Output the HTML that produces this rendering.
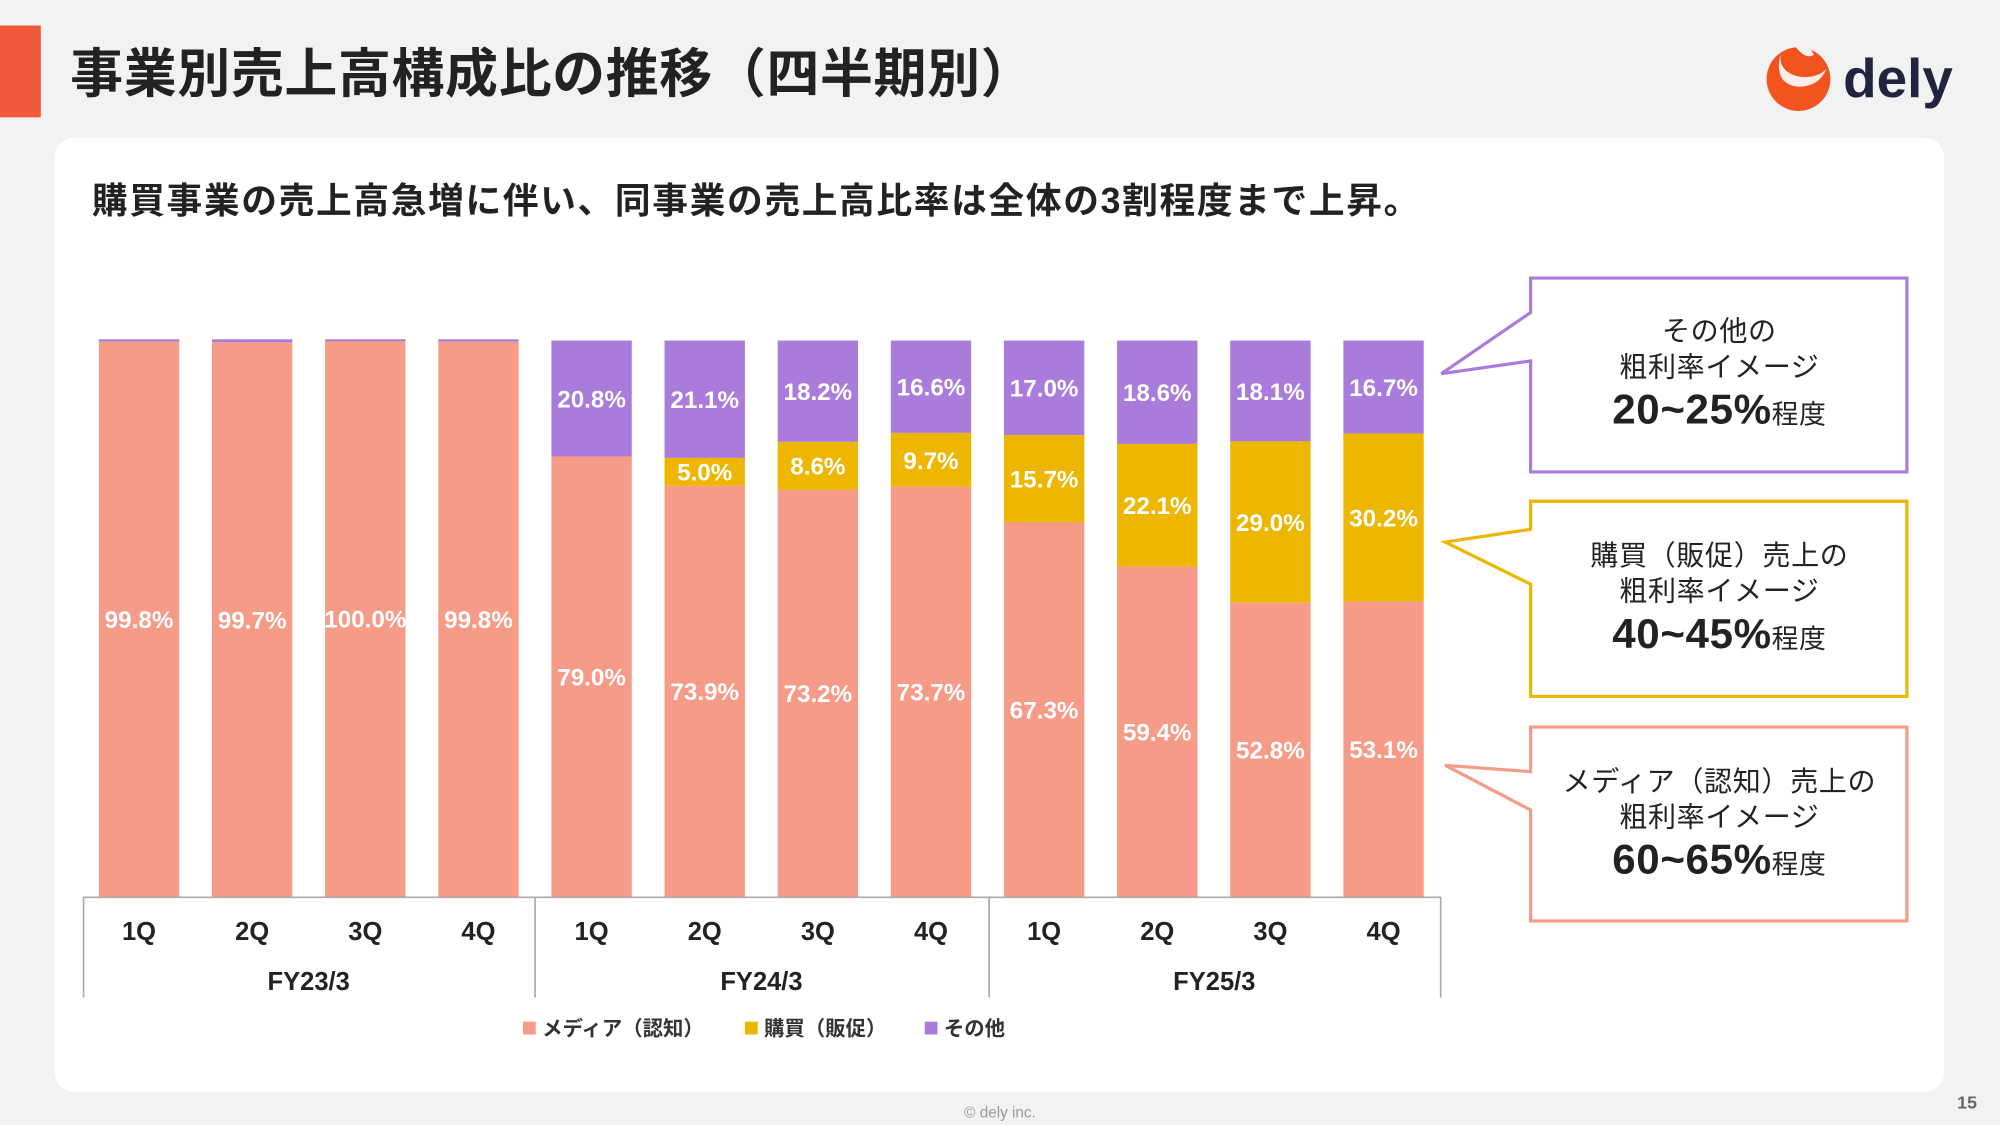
<!DOCTYPE html><html><head><meta charset="utf-8"><style>html,body{margin:0;padding:0;background:#f2f2f2}svg{display:block}text{font-family:"Liberation Sans","Noto Sans CJK JP",sans-serif}</style></head><body>
<svg width="2000" height="1125" viewBox="0 0 1568 882" xmlns="http://www.w3.org/2000/svg">
<rect width="1568" height="882" fill="#f2f2f2"/>
<rect x="0" y="20" width="32" height="72" fill="#F05A3A"/>
<text x="55" y="72" font-size="41.5" font-weight="bold" fill="#222" letter-spacing="0.5">事業別売上高構成比の推移（四半期別）</text>
<circle cx="1410" cy="62" r="25" fill="#F2531F"/>
<path d="M1396 42 q-2 14 14 18 q14 2 22 -6 q-6 14 -22 14 q-20 -2 -14 -26z" fill="#fff" opacity="0.9"/>
<path d="M1408 37 q10 -4 14 6 q-6 4 -14 -6z" fill="#f2f2f2"/>
<text x="1445" y="76" font-size="43" font-weight="bold" fill="#22233f">dely</text>
<rect x="43" y="108" width="1481" height="748" rx="15" fill="#fff"/>
<text x="72" y="167" font-size="28" font-weight="bold" fill="#222" letter-spacing="1.3">購買事業の売上高急増に伴い、同事業の売上高比率は全体の3割程度まで上昇。</text>
<g id="bars" font-size="19" font-weight="bold" fill="#fff" text-anchor="middle"></g>
<g stroke="#aaa" stroke-width="1.3"><line x1="65" y1="703.5" x2="1129" y2="703.5"/><line x1="65.5" y1="703" x2="65.5" y2="782"/><line x1="419.5" y1="703" x2="419.5" y2="782"/><line x1="775.5" y1="703" x2="775.5" y2="782"/><line x1="1129.5" y1="703" x2="1129.5" y2="782"/></g>
<g font-size="20" font-weight="bold" fill="#222" text-anchor="middle" id="ax">
<text x="242" y="776">FY23/3</text><text x="597" y="776">FY24/3</text><text x="952" y="776">FY25/3</text>
</g>
<g font-size="16" font-weight="bold" fill="#333">
<rect x="410" y="801" width="10" height="10" fill="#F59B87"/><text x="425" y="812">メディア（認知）</text>
<rect x="584" y="801" width="10" height="10" fill="#EDB600"/><text x="599" y="812">購買（販促）</text>
<rect x="725" y="801" width="10" height="10" fill="#A97BDB"/><text x="740" y="812">その他</text>
</g>
<g fill="#fff" stroke-width="2.5">
<path d="M1200 218 H1495 V370 H1200 V283 L1130 293 L1200 245 Z" stroke="#A97BDB"/>
<path d="M1200 393 H1495 V546 H1200 V458 L1133 425 L1200 415 Z" stroke="#EDB600"/>
<path d="M1200 570 H1495 V722 H1200 V635 L1133 600 L1200 605 Z" stroke="#F59B87"/>
</g>
<g fill="#222" text-anchor="middle" font-size="22" letter-spacing="0.5">
<text x="1348" y="267">その他の</text><text x="1348" y="295">粗利率イメージ</text>
<text x="1348" y="332" letter-spacing="0.5"><tspan font-size="33" font-weight="bold">20~25%</tspan><tspan font-size="21">程度</tspan></text>
<text x="1348" y="443">購買（販促）売上の</text><text x="1348" y="471">粗利率イメージ</text>
<text x="1348" y="508" letter-spacing="0.5"><tspan font-size="33" font-weight="bold">40~45%</tspan><tspan font-size="21">程度</tspan></text>
<text x="1348" y="620">メディア（認知）売上の</text><text x="1348" y="648">粗利率イメージ</text>
<text x="1348" y="685" letter-spacing="0.5"><tspan font-size="33" font-weight="bold">60~65%</tspan><tspan font-size="21">程度</tspan></text>
</g>
<text x="784" y="876" font-size="12" fill="#999" text-anchor="middle">© dely inc.</text>
<text x="1550" y="869" font-size="14" font-weight="bold" fill="#666" text-anchor="end">15</text>
<script>
var d=[[99.8,0,0.2],[99.7,0,0.3],[100,0,0],[99.8,0,0.2],[79.0,0,20.8],[73.9,5.0,21.1],[73.2,8.6,18.2],[73.7,9.7,16.6],[67.3,15.7,17.0],[59.4,22.1,18.6],[52.8,29.0,18.1],[53.1,30.2,16.7]];
var cols=["#F59B87","#EDB600","#A97BDB"],ns="http://www.w3.org/2000/svg",g=document.getElementById("bars"),ax=document.getElementById("ax");
function el(t,a,p,s){var e=document.createElementNS(ns,t);for(var k in a)e.setAttribute(k,a[k]);if(s!=null)e.textContent=s;p.appendChild(e);return e;}
d.forEach(function(v,i){var cx=109+i*88.7,tot=v[0]+v[1]+v[2],y=703;
for(var j=0;j<3;j++){var h=v[j]/tot*436;if(h<=0)continue;y-=h;el("rect",{x:cx-31.5,y:y,width:63,height:h,fill:cols[j]},g);
if(v[j]>=3){el("text",{x:cx,y:y+h/2+7},g,(v[j]==100?"100.0":v[j].toFixed(1))+"%");}}
if(i<4)el("rect",{x:cx-31.5,y:266,width:63,height:1.5,fill:cols[2]},g);
el("text",{x:cx,y:737},ax,(i%4+1)+"Q");});
</script>
</svg></body></html>
